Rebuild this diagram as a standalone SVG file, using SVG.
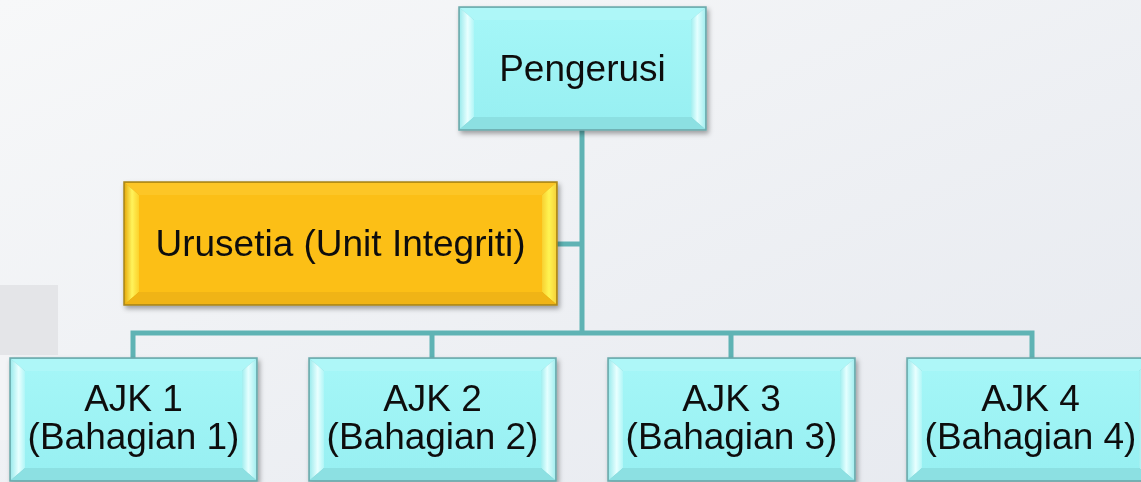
<svg xmlns="http://www.w3.org/2000/svg" width="1141" height="482" viewBox="0 0 1141 482">
<defs>
<linearGradient id="bg" x1="0" y1="0" x2="1" y2="1">
<stop offset="0" stop-color="#f7f8f9"/>
<stop offset="1" stop-color="#e6e9ef"/>
</linearGradient>
<linearGradient id="cyanFace" x1="0" y1="0" x2="0" y2="1">
<stop offset="0" stop-color="#a4f6f7"/>
<stop offset="1" stop-color="#98f0f2"/>
</linearGradient>
<linearGradient id="cyanLeft" x1="0" y1="0" x2="1" y2="0">
<stop offset="0" stop-color="#a0ecee"/>
<stop offset="0.55" stop-color="#e8ffff"/>
<stop offset="1" stop-color="#b0f6f7"/>
</linearGradient>
<linearGradient id="cyanRight" x1="0" y1="0" x2="1" y2="0">
<stop offset="0" stop-color="#a0eeef"/>
<stop offset="0.45" stop-color="#e4ffff"/>
<stop offset="1" stop-color="#a6eff0"/>
</linearGradient>
<linearGradient id="orangeLeft" x1="0" y1="0" x2="1" y2="0">
<stop offset="0" stop-color="#e8b014"/>
<stop offset="0.5" stop-color="#fff35c"/>
<stop offset="1" stop-color="#fcd22a"/>
</linearGradient>
<linearGradient id="orangeRight" x1="0" y1="0" x2="1" y2="0">
<stop offset="0" stop-color="#f8d030"/>
<stop offset="0.5" stop-color="#fff452"/>
<stop offset="1" stop-color="#f6d43a"/>
</linearGradient>
<filter id="sh" x="-10%" y="-10%" width="125%" height="130%">
<feDropShadow dx="2" dy="3" stdDeviation="2.5" flood-color="#000" flood-opacity="0.35"/>
</filter>
<symbol id="cyanBox" viewBox="0 0 247 123" width="247" height="123" overflow="visible">
<rect x="0" y="0" width="247" height="123" fill="#7fcfd2" stroke="#6ba9ab" stroke-width="1.5"/>
<polygon points="1,1 246,1 232,13 15,13" fill="#aef7f8"/>
<polygon points="1,1 15,13 15,110 1,122" fill="url(#cyanLeft)"/>
<polygon points="246,1 246,122 232,110 232,13" fill="url(#cyanRight)"/>
<polygon points="1,122 15,110 232,110 246,122" fill="#8ce0e2"/>
<rect x="15" y="13" width="217" height="97" fill="url(#cyanFace)"/>
</symbol>
</defs>
<style>
.lbl{font-family:"Liberation Sans",Arial,sans-serif;font-size:37px;fill:#111;text-anchor:middle}
.conn{fill:none;stroke:#5fb3b4;stroke-width:5;stroke-linejoin:miter}
</style>
<rect width="1141" height="482" fill="url(#bg)"/>
<rect x="0" y="285" width="58" height="70" fill="#e4e5e8"/>
<rect x="0" y="355" width="10" height="85" fill="#f3f4f6"/>
<g id="connectors">
<path class="conn" d="M582,130 V333"/>
<path class="conn" d="M557,244 H582"/>
<path class="conn" d="M133,358 V333 H1032 V358"/>
<path class="conn" d="M432,333 V358"/>
<path class="conn" d="M731,333 V358"/>
</g>
<g id="pengerusi" filter="url(#sh)">
<use href="#cyanBox" x="459" y="7"/>
<text class="lbl" x="582.5" y="81">Pengerusi</text>
</g>
<g id="urusetia" filter="url(#sh)">
<rect x="124" y="182" width="433" height="123" fill="#d9a30f" stroke="#a8861e" stroke-width="1.5"/>
<polygon points="125,183 556,183 542,195 139,195" fill="#fdc628"/>
<polygon points="125,183 139,195 139,292 125,304" fill="url(#orangeLeft)"/>
<polygon points="556,183 556,304 542,292 542,195" fill="url(#orangeRight)"/>
<polygon points="125,304 139,292 542,292 556,304" fill="#f0b412"/>
<rect x="139" y="195" width="403" height="97" fill="#fcbf16"/>
<text class="lbl" x="340.5" y="256">Urusetia (Unit Integriti)</text>
</g>
<g id="ajk1" filter="url(#sh)">
<use href="#cyanBox" x="10" y="358"/>
<text class="lbl" x="133.5" y="411">AJK 1</text>
<text class="lbl" x="133.5" y="449">(Bahagian 1)</text>
</g>
<g id="ajk2" filter="url(#sh)">
<use href="#cyanBox" x="309" y="358"/>
<text class="lbl" x="432.5" y="411">AJK 2</text>
<text class="lbl" x="432.5" y="449">(Bahagian 2)</text>
</g>
<g id="ajk3" filter="url(#sh)">
<use href="#cyanBox" x="608" y="358"/>
<text class="lbl" x="731.5" y="411">AJK 3</text>
<text class="lbl" x="731.5" y="449">(Bahagian 3)</text>
</g>
<g id="ajk4" filter="url(#sh)">
<use href="#cyanBox" x="907" y="358"/>
<text class="lbl" x="1030.5" y="411">AJK 4</text>
<text class="lbl" x="1030.5" y="449">(Bahagian 4)</text>
</g>
</svg>
